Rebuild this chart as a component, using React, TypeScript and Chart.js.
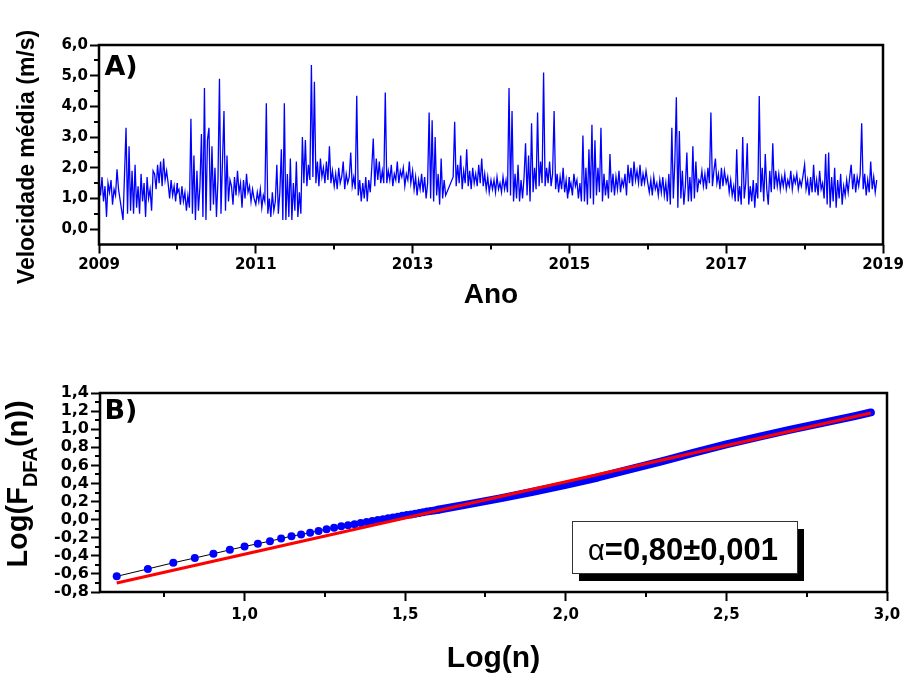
import React, { useEffect, useRef } from "react";
import { Chart, registerables } from "chart.js";
Chart.register(...registerables);

// ---------- Panel A: weekly mean wind speed (m/s), one array per year ----------
const WEEK = 7 / 365.25;
const speed2009 = [1.6, 1.1, 1.7, 0.9, 1.4, 0.4, 1.5, 1.2, 1.6, 0.8, 1.3, 1.1, 1.95, 1.3, null, null, 0.3, 1.8, 3.3, 0.5, 2.7, 0.6, 1.9, 0.5, 2.1, 0.7, 1.4, 0.5, 1.8, 0.9, 1.5, 0.4, 1.7, 1.0, 1.3, 0.6, 1.9, 1.8, 1.3, 2.1, 1.5, 2.2, 1.4, 2.3, 1.6, 1.9, 1.5, 1.0, 1.6, 1.1, 1.4, 0.9, 1.5];
const speed2010 = [1.2, 1.3, 0.8, 1.4, 0.9, 1.2, 0.6, 1.1, 0.7, 3.6, 0.5, 2.4, 0.3, 1.9, 0.6, 1.4, 3.1, 0.4, 4.6, 0.3, 2.9, 3.3, 0.6, 2.7, 0.8, 2.0, 0.4, 1.6, 4.9, 0.5, 2.2, 3.85, 0.6, 2.4, 0.9, 1.6, 1.4, 0.8, 1.7, 1.1, 1.9, 1.2, 1.5, 0.7, 1.6, 1.0, 1.8, 1.2, 1.4, 0.9, 1.3, 1.0];
const speed2011 = [0.8, 1.2, 0.9, 1.3, 0.7, 1.1, 0.9, 4.1, 0.5, 1.0, 0.4, 1.2, 0.6, 0.9, 2.1, 0.5, 1.2, 2.6, 0.3, 4.1, 0.3, 1.8, 0.4, 2.3, 0.3, 1.5, 0.6, 2.2, 0.4, 1.2, 0.5, 3.0, 1.5, 2.9, 1.4, 2.1, 1.6, 5.35, 1.7, 4.8, 1.5, 2.2, 1.4, 2.3, 1.7, 2.0, 1.5, 2.2, 1.6, 2.7, 1.5, 1.9];
const speed2012 = [1.4, 1.8, 1.3, 2.0, 1.5, 1.7, 2.2, 1.3, 1.8, 1.5, 1.7, 2.5, 1.4, 1.7, 1.3, 4.35, 1.1, 1.6, 0.9, 1.5, 1.0, 1.7, 0.9, 1.6, 1.2, 2.0, 2.95, 1.4, 2.3, 1.6, 2.2, 1.5, 1.9, 1.5, 4.45, 1.5, 1.9, 1.6, 2.1, 1.4, 1.8, 1.6, 2.2, 1.5, 1.9, 1.7, 2.0, 1.4, 1.8, 1.6, 2.2, 1.5];
const speed2013 = [1.9, 1.3, 1.7, 1.1, 1.6, 1.3, 1.8, 1.2, 1.7, 1.0, 1.5, 3.8, 1.0, 3.55, 0.9, 3.0, 1.1, 1.8, 0.8, 2.3, 1.0, 1.6, 1.1, null, null, null, null, 1.7, 3.5, 1.4, 2.1, 1.5, 2.4, 1.3, 1.9, 1.5, 2.6, 1.4, 1.9, 1.3, 2.0, 1.5, 1.8, 1.4, 2.1, 1.5, 2.3, 1.4, 1.8, 1.3, 1.7, 1.2];
const speed2014 = [1.6, 1.3, 1.6, 1.2, 1.7, 1.3, 1.5, 1.2, 1.7, 1.3, 1.6, 1.2, 4.6, 1.1, 3.85, 0.9, 1.8, 1.0, 2.1, 0.9, 1.6, 1.0, 1.7, 2.8, 1.1, 2.4, 0.9, 3.45, 1.2, 2.0, 1.3, 3.8, 1.4, 2.2, 1.5, 5.1, 1.4, 2.0, 1.5, 2.2, 1.4, 1.8, 3.85, 1.3, 1.8, 1.2, 1.7, 1.3, 2.0, 1.2, 1.6, 1.0, 1.7];
const speed2015 = [1.3, 1.5, 1.1, 1.8, 1.4, 1.6, 1.0, 1.5, 0.9, 3.05, 0.9, 2.0, 0.8, 2.6, 1.0, 3.4, 0.8, 2.9, 1.1, 2.0, 1.2, 3.3, 0.9, 1.8, 1.1, 1.6, 1.0, 2.45, 1.2, 1.8, 1.1, 1.7, 1.3, 1.9, 1.2, 1.6, 1.4, 1.8, 1.1, 2.1, 1.5, 2.0, 1.4, 2.2, 1.6, 1.9, 1.5, 2.1, 1.4, 1.8, 1.5, 1.9];
const speed2016 = [1.5, 1.2, 1.6, 1.1, 1.7, 1.3, 1.5, 1.1, 1.6, 1.2, 1.7, 1.1, 1.5, 0.9, 1.8, 0.8, 3.3, 1.0, 2.2, 4.3, 0.7, 3.2, 1.0, 1.9, 0.8, 1.4, 2.5, 0.9, 1.7, 0.9, 2.7, 1.0, 2.2, 1.2, 1.6, 1.5, 1.9, 1.4, 1.8, 1.3, 2.0, 1.5, 3.8, 1.4, 1.9, 2.3, 1.5, 1.8, 1.3, 2.0, 1.4, 1.9];
const speed2017 = [1.5, 1.7, 1.2, 1.6, 1.1, 1.4, 0.9, 2.6, 0.9, 1.4, 0.8, 3.0, 1.0, 1.5, 2.8, 0.8, 1.4, 0.9, 1.6, 0.7, 1.5, 1.0, 4.34, 1.2, 2.0, 0.9, 2.45, 1.3, 0.8, 1.9, 1.2, 2.8, 1.3, 1.9, 1.4, 1.8, 1.3, 1.7, 1.4, 1.8, 1.3, 1.6, 1.4, 1.9, 1.3, 1.7, 1.5, 1.8, 1.3, 1.6, 1.4, 1.7];
const speed2018 = [2.1, 1.3, 1.6, 1.1, 1.7, 1.2, 2.1, 1.2, 1.6, 1.1, 1.9, 1.3, 1.5, 1.0, 2.45, 0.8, 2.5, 0.7, 1.7, 0.9, 2.0, 0.7, 1.6, 1.0, 1.8, 0.8, 1.4, 1.1, 1.6, 1.2, 1.7, 2.1, 1.3, 1.8, 1.2, 1.7, 1.4, 1.8, 3.45, 1.3, 1.8, 1.1, 1.6, 1.2, 2.2, 1.3, 1.7, 1.2, 1.6];
const speedYears: [number, (number | null)[]][] = [
  [2009, speed2009], [2010, speed2010], [2011, speed2011], [2012, speed2012], [2013, speed2013],
  [2014, speed2014], [2015, speed2015], [2016, speed2016], [2017, speed2017], [2018, speed2018],
];
const yearTicks = [2009, 2011, 2013, 2015, 2017, 2019];
const yearMinor = [2010, 2012, 2014, 2016, 2018];
const speedTicks = [0, 1, 2, 3, 4, 5, 6];
const speedMinor = [0.5, 1.5, 2.5, 3.5, 4.5, 5.5];

// ---------- Panel B: DFA ----------
const dfaN = [4, 5, 6, 7, 8, 9, 10, 11, 12, 13, 14, 15, 16, 17, 18, 19, 20, 21, 22, 23, 24, 25, 26, 27, 28, 29, 30, 31, 32, 33, 34, 35, 36, 37, 38, 39, 40];
const dfaLogF = [-0.627, -0.545, -0.477, -0.424, -0.377, -0.334, -0.297, -0.266, -0.238, -0.209, -0.183, -0.164, -0.145, -0.125, -0.105, -0.089, -0.074, -0.062, -0.051, -0.038, -0.027, -0.016, -0.005, 0.005, 0.014, 0.024, 0.033, 0.042, 0.05, 0.058, 0.066, 0.074, 0.081, 0.089, 0.095, 0.102, 0.109];
const dfaBandN = [40, 50, 63, 79, 100, 126, 158, 200, 251, 316, 398, 501, 631, 794, 891];
const dfaBandLogF = [0.109, 0.172, 0.238, 0.308, 0.385, 0.466, 0.555, 0.648, 0.742, 0.832, 0.915, 0.995, 1.07, 1.145, 1.185];
const fitN = [4, 891];
const fitLogF = [-0.7, 1.178];
const logNTicks = [1.0, 1.5, 2.0, 2.5, 3.0];
const logNMinor = [0.75, 1.25, 1.75, 2.25, 2.75];
const logFTicks = [-0.8, -0.6, -0.4, -0.2, 0, 0.2, 0.4, 0.6, 0.8, 1.0, 1.2, 1.4];
const logFMinor = [-0.7, -0.5, -0.3, -0.1, 0.1, 0.3, 0.5, 0.7, 0.9, 1.1, 1.3];
const alphaText = "=0,80±0,001";

const comma = (v: number) => Number(v).toFixed(1).replace(".", ",");
const TICKFONT = "DejaVu Sans";
const TITLEFONT = '"Liberation Sans", Arial, sans-serif';

type Run = { text: string; font: string; dy?: number };
type Label = { runs: Run[]; x: number; y: number; rotate?: boolean };
type Spec = {
  xMinor: number[]; yMinor: number[]; minorLen: number; labels: Label[];
  box?: { x1: number; x2: number; y1: number; y2: number; sx: number; sy: number };
};

function makeDeco(spec: Spec) {
  return {
    id: "deco",
    afterDraw(chart: any) {
      const { ctx, chartArea: a, scales } = chart;
      ctx.save();
      if (spec.box) {
        const b = spec.box;
        const x1 = Math.round(scales.x.getPixelForValue(b.x1));
        const x2 = Math.round(scales.x.getPixelForValue(b.x2));
        const y1 = Math.round(scales.y.getPixelForValue(b.y1));
        const y2 = Math.round(scales.y.getPixelForValue(b.y2));
        ctx.fillStyle = "#000";
        ctx.fillRect(x1 + b.sx, y1 + b.sy, x2 - x1, y2 - y1);
        ctx.fillStyle = "#fff";
        ctx.fillRect(x1, y1, x2 - x1, y2 - y1);
        ctx.strokeStyle = "#333";
        ctx.lineWidth = 1;
        ctx.strokeRect(x1 + 0.5, y1 + 0.5, x2 - x1, y2 - y1);
      }
      ctx.strokeStyle = "#000";
      ctx.lineWidth = 2.5;
      ctx.strokeRect(a.left, a.top, a.right - a.left, a.bottom - a.top);
      ctx.lineWidth = 2;
      ctx.beginPath();
      spec.xMinor.forEach((v) => {
        const p = Math.round(scales.x.getPixelForValue(v));
        ctx.moveTo(p, a.bottom);
        ctx.lineTo(p, a.bottom + spec.minorLen);
      });
      spec.yMinor.forEach((v) => {
        const p = Math.round(scales.y.getPixelForValue(v));
        ctx.moveTo(a.left, p);
        ctx.lineTo(a.left - spec.minorLen, p);
      });
      ctx.stroke();
      ctx.fillStyle = "#000";
      ctx.textBaseline = "alphabetic";
      ctx.textAlign = "left";
      for (const l of spec.labels) {
        let total = 0;
        for (const r of l.runs) {
          ctx.font = r.font;
          total += ctx.measureText(r.text).width;
        }
        ctx.save();
        ctx.translate(l.x, l.y);
        if (l.rotate) ctx.rotate(-Math.PI / 2);
        let cx = -total / 2;
        for (const r of l.runs) {
          ctx.font = r.font;
          ctx.fillText(r.text, cx, r.dy || 0);
          cx += ctx.measureText(r.text).width;
        }
        ctx.restore();
      }
      ctx.restore();
    },
  };
}

function axis(min: number, max: number, ticks: number[], fmt: (v: number) => string, size: number, pad: number, fit: (s: any) => void) {
  return {
    type: "linear",
    min,
    max,
    afterBuildTicks: (s: any) => {
      s.ticks = ticks.map((v) => ({ value: v }));
    },
    afterFit: (s: any) => {
      fit(s);
      s.paddingLeft = 0;
      s.paddingRight = 0;
      s.paddingTop = 0;
      s.paddingBottom = 0;
    },
    ticks: {
      callback: (v: any) => fmt(Number(v)),
      font: { family: TICKFONT, weight: "bold", size },
      color: "#000",
      padding: pad,
      autoSkip: false,
      maxRotation: 0,
      minRotation: 0,
    },
    grid: { drawOnChartArea: false, drawTicks: true, tickLength: 9, tickWidth: 2, tickColor: "#000", color: "#000" },
    border: { display: false },
  };
}

export default function App() {
  const refA = useRef<HTMLCanvasElement>(null);
  const refB = useRef<HTMLCanvasElement>(null);

  useEffect(() => {
    const speedPoints = speedYears.flatMap(([yr, vals]) =>
      vals.map((v, j) => ({ x: yr + j * WEEK, y: v }))
    );
    const decoA = makeDeco({
      xMinor: yearMinor,
      yMinor: speedMinor,
      minorLen: 5,
      labels: [
        { runs: [{ text: "A)", font: `bold 27px ${TICKFONT}` }], x: 121, y: 75 },
        { runs: [{ text: "Ano", font: `bold 28px ${TITLEFONT}` }], x: 491, y: 303 },
        { runs: [{ text: "Velocidade média (m/s)", font: `bold 23px ${TITLEFONT}` }], x: 34, y: 157, rotate: true },
      ],
    });
    const chartA = new Chart(refA.current as HTMLCanvasElement, {
      type: "line",
      data: {
        datasets: [
          {
            data: speedPoints as any,
            borderColor: "#0000ff",
            borderWidth: 1.3,
            pointRadius: 0,
            spanGaps: true,
            tension: 0,
          },
        ],
      },
      options: {
        animation: false,
        responsive: false,
        devicePixelRatio: 1,
        events: [],
        layout: { padding: { top: 45, right: 29, left: 0, bottom: 0 } },
        plugins: { legend: { display: false }, tooltip: { enabled: false } },
        scales: {
          x: axis(2009, 2019, yearTicks, (v) => String(Math.round(v)), 15, 3, (s) => { s.height = 75.5; }) as any,
          y: axis(-0.5, 6, speedTicks, comma, 15, 2, (s) => { s.width = 99; }) as any,
        },
      },
      plugins: [decoA],
    });

    const decoB = makeDeco({
      xMinor: logNMinor,
      yMinor: logFMinor,
      minorLen: 5,
      box: { x1: 2.02, x2: 2.72, y1: -0.02, y2: -0.585, sx: 7, sy: 8 },
      labels: [
        { runs: [{ text: "B)", font: `bold 27px ${TICKFONT}` }], x: 121, y: 89 },
        { runs: [{ text: "Log(n)", font: `bold 30px ${TITLEFONT}` }], x: 493.5, y: 337 },
        {
          runs: [
            { text: "Log(F", font: `bold 29px ${TITLEFONT}` },
            { text: "DFA", font: `bold 20px ${TITLEFONT}`, dy: 10 },
            { text: "(n))", font: `bold 29px ${TITLEFONT}` },
          ],
          x: 27, y: 154, rotate: true,
        },
        {
          runs: [
            { text: "α", font: `29px ${TITLEFONT}` },
            { text: alphaText, font: `bold 31px ${TITLEFONT}` },
          ],
          x: 683, y: 230,
        },
      ],
    });
    const chartB = new Chart(refB.current as HTMLCanvasElement, {
      type: "line",
      data: {
        datasets: [
          {
            data: fitN.map((n, i) => ({ x: Math.log10(n), y: fitLogF[i] })) as any,
            borderColor: "#ff0000",
            borderWidth: 3,
            pointRadius: 0,
          },
          {
            data: dfaBandN.map((n, i) => ({ x: Math.log10(n), y: dfaBandLogF[i] })) as any,
            borderColor: "#0000ff",
            borderWidth: 8,
            borderCapStyle: "round",
            borderJoinStyle: "round",
            pointRadius: 0,
          },
          {
            data: dfaN.map((n, i) => ({ x: Math.log10(n), y: dfaLogF[i] })) as any,
            borderColor: "#000",
            borderWidth: 1,
            pointRadius: 4,
            pointBackgroundColor: "#0000ff",
            pointBorderColor: "#0000ff",
            pointBorderWidth: 0,
          },
        ],
      },
      options: {
        animation: false,
        responsive: false,
        devicePixelRatio: 1,
        events: [],
        layout: { padding: { top: 63, right: 25, left: 0, bottom: 0 } },
        plugins: { legend: { display: false }, tooltip: { enabled: false } },
        scales: {
          x: axis(0.55, 3.0, logNTicks, comma, 15, 5, (s) => { s.height = 88; }) as any,
          y: axis(-0.8, 1.4, logFTicks, comma, 16, 2, (s) => { s.width = 100; }) as any,
        },
      },
      plugins: [decoB],
    });

    return () => {
      chartA.destroy();
      chartB.destroy();
    };
  }, []);

  return (
    <div style={{ position: "absolute", left: 0, top: 0, width: 912, height: 680, background: "#fff" }}>
      <canvas ref={refA} width={912} height={320} style={{ position: "absolute", left: 0, top: 0, display: "block" }} />
      <canvas ref={refB} width={912} height={350} style={{ position: "absolute", left: 0, top: 330, display: "block" }} />
    </div>
  );
}
